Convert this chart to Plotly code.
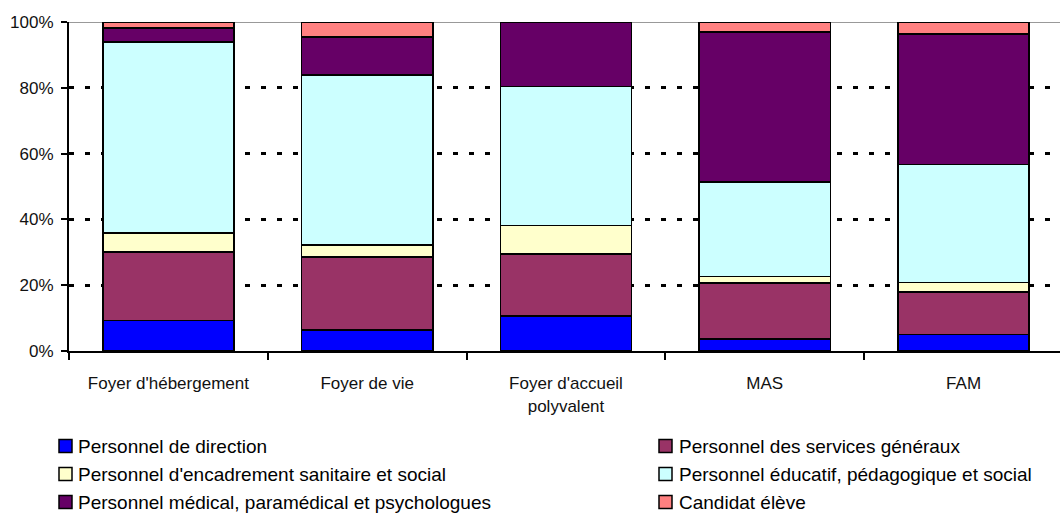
import plotly.graph_objects as go

categories = ["Foyer d'hébergement", "Foyer de vie", "Foyer d'accueil<br>polyvalent", "MAS", "FAM"]
series_names = [
    "Personnel de direction",
    "Personnel des services généraux",
    "Personnel d'encadrement sanitaire et social",
    "Personnel éducatif, pédagogique et social",
    "Personnel médical, paramédical et psychologues",
    "Candidat élève",
]
direction = [9.3, 6.4, 10.6, 3.6, 5.0]
services_generaux = [20.8, 22.2, 18.8, 17.1, 12.9]
encadrement = [5.8, 3.6, 8.7, 2.0, 2.9]
educatif = [58.1, 51.7, 42.3, 28.7, 35.9]
medical = [4.2, 11.5, 19.6, 45.5, 39.7]
candidat = [1.8, 4.6, 0.0, 3.1, 3.6]
series_values = [direction, services_generaux, encadrement, educatif, medical, candidat]
colors = ["#0000FF", "#993366", "#FFFFCC", "#CCFFFF", "#660066", "#FF8080"]
y_ticks = [0, 20, 40, 60, 80, 100]
y_tick_labels = ["0%", "20%", "40%", "60%", "80%", "100%"]

W, H = 1060, 515
ML, MR, MT, MB = 69, 0, 22, 164
PW, PH = W - ML - MR, H - MT - MB

def px_x(px):
    return (px - ML) / PW

def px_y(py):
    return (H - MB - py) / PH

x_pos = list(range(len(categories)))
boundaries = [i - 0.5 for i in range(len(categories) + 1)]

fig = go.Figure()
for name, vals, col in zip(series_names, series_values, colors):
    fig.add_trace(go.Bar(
        x=x_pos, y=vals, name=name,
        marker=dict(color=col, line=dict(color="black", width=1.6)),
    ))

FONT = "Liberation Sans, Arial, sans-serif"

# Legend laid out as two columns (row-major order as in the reference)
shapes = [dict(type="line", xref="paper", yref="y", x0=0, x1=1, y0=100, y1=100,
               line=dict(color="#999999", width=2), layer="below")]
annotations = []
col_sq_x = [59, 659]
col_txt_x = [76, 677]
row_y = [446, 474, 502]
for i, (name, col) in enumerate(zip(series_names, colors)):
    c, r = i % 2, i // 2
    sx, sy = col_sq_x[c], row_y[r]
    shapes.append(dict(type="rect", xref="paper", yref="paper",
                       x0=px_x(sx), x1=px_x(sx + 13), y0=px_y(sy - 6.5), y1=px_y(sy + 6.5),
                       fillcolor=col, line=dict(color="black", width=1.5)))
    annotations.append(dict(text=name, xref="paper", yref="paper",
                            x=px_x(col_txt_x[c]), y=px_y(sy), xanchor="left", yanchor="middle",
                            showarrow=False, font=dict(family=FONT, size=19, color="#000")))

fig.update_layout(
    barmode="stack",
    bargap=0.34,
    width=W, height=H,
    margin=dict(l=ML, r=MR, t=MT, b=MB),
    plot_bgcolor="white", paper_bgcolor="white",
    font=dict(family=FONT, size=17, color="#111"),
    showlegend=False,
    xaxis=dict(
        range=[-0.5, 4.485],
        tickvals=x_pos, ticktext=categories,
        ticks="", showgrid=False, zeroline=False,
        showline=True, linecolor="black", linewidth=2,
        ticklabelstandoff=16,
        minor=dict(tickvals=boundaries, ticks="outside", ticklen=7,
                   tickcolor="black", tickwidth=2, showgrid=False),
    ),
    yaxis=dict(
        range=[0, 100],
        tickvals=y_ticks, ticktext=y_tick_labels,
        ticks="outside", ticklen=6, tickwidth=2, tickcolor="black",
        showline=True, linecolor="black", linewidth=2,
        showgrid=True, gridcolor="black", gridwidth=3, griddash="5px,11px",
        zeroline=False,
        ticklabelstandoff=4,
    ),
    shapes=shapes,
    annotations=annotations,
)

fig.write_html(
    "out.html",
    config={"displayModeBar": False},
    post_script="document.body.style.margin='0';document.body.style.overflow='hidden';",
)
